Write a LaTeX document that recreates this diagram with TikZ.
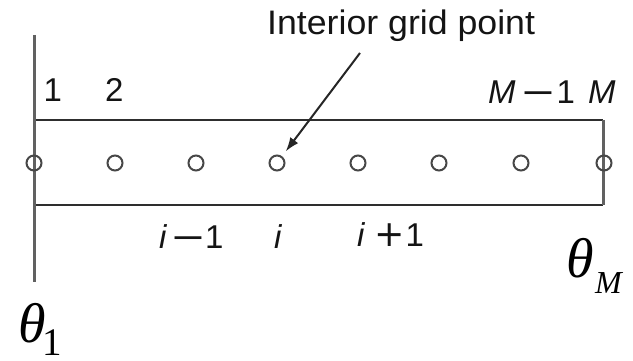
\documentclass[tikz,border=0pt]{standalone}
\usepackage{fontspec}
\setmainfont{Liberation Sans}
\newfontfamily\tnr{Liberation Serif}
\newfontfamily\dvs{DejaVu Sans}
\usetikzlibrary{arrows.meta}
\newcommand{\bigminus}{\scalebox{1.3}[1]{\dvs −}}
\newcommand{\bigplus}{\scalebox{1.1}{\dvs +}}
\begin{document}
\begin{tikzpicture}[x=1pt,y=-1pt,
  vline/.style={draw=black!62, line width=3pt},
  hline/.style={draw=black!82, line width=2.5pt},
  gp/.style={circle, draw=black!72, line width=2pt, minimum size=15pt, inner sep=0pt},
  lbl/.style={font=\fontsize{33}{33}\selectfont, text=black!92, inner sep=0pt, anchor=base west},
  big/.style={font=\fontsize{56}{56}\selectfont\tnr\itshape, inner sep=0pt, anchor=base west},
  arr/.style={draw=black!85, line width=2pt, -{Latex[length=14pt,width=10pt]}, shorten >=6pt}
]
\useasboundingbox (0,0) rectangle (633,361);
% frame
\coordinate (lt) at (34,35);
\coordinate (lb) at (34,282);
\coordinate (tl) at (34,120);
\coordinate (tr) at (603,120);
\coordinate (br) at (603,205);
\coordinate (bl) at (34,205);
\draw[hline] (tl) -- (tr);
\draw[hline] (bl) -- (br);
\draw[vline] (tr) -- (br);
\draw[vline] (lt) -- (lb);
% grid points
\foreach \n/\x in {1/34,2/115,3/196,4/277,5/358,6/439,7/521,8/604}
  \node[gp] (p\n) at (\x,163) {};
% labels
\node[lbl] (t1) at (43.5,102) {1};
\node[lbl] (t2) at (105,102) {2};
\node[lbl] (tm1) at (488,104) {\textit{M}\hspace{5pt}\bigminus\hspace{0pt}1};
\node[lbl] (tm) at (588,104) {\textit{M}};
\node[lbl] (bi1) at (159,248) {\textit{i}\hspace{3pt}\bigminus\kern-1pt 1};
\node[lbl] (bi) at (274,248) {\textit{i}};
\node[lbl] (bi2) at (357,247) {\textit{i}\hspace{9pt}\bigplus\kern1pt 1};
\node[lbl, font=\fontsize{34}{34}\selectfont] (ip) at (267,35) {\scalebox{1.05}[1]{Interior grid point}};
\coordinate (tail) at (360,53);
\draw[arr] (tail) -- (p4);
% boundary temperatures
\node[big] (th1) at (18,342) {θ};
\node[inner sep=0pt, anchor=base west, font=\fontsize{39}{39}\selectfont\tnr] (s1) at (42,355) {1};
\node[big] (thM) at (566,277) {θ};
\node[inner sep=0pt, anchor=base west, font=\fontsize{32}{32}\selectfont\tnr\itshape] (sM) at (595,293) {M};
\end{tikzpicture}
\end{document}
